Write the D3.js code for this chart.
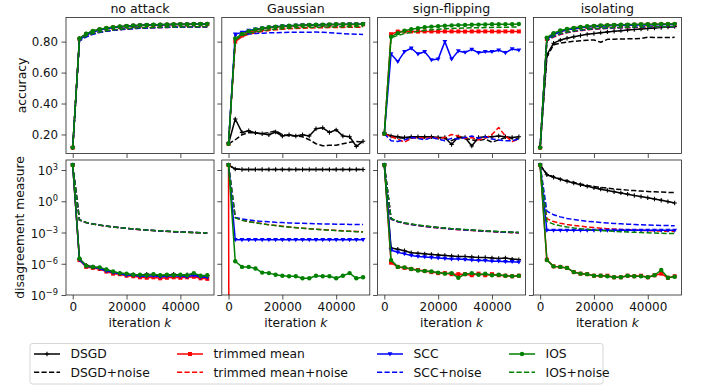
<!DOCTYPE html>
<html><head><meta charset="utf-8">
<script src="https://cdn.jsdelivr.net/npm/d3@7"></script>
<style>
body{margin:0;background:#fff}
svg{display:block}
text{font-family:"DejaVu Sans",sans-serif;fill:#111}
</style>
</head><body>
<svg id="chart" width="702" height="385"></svg>
<script>
// ---------------- data ----------------
const iterations = [0,2500,5000,7500,10000,12500,15000,17500,20000,22500,25000,27500,30000,32500,35000,37500,40000,42500,45000,47500,50000];
const attackTitles = ["no attack","Gaussian","sign-flipping","isolating"];
const methodNames = ["DSGD","DSGD+noise","trimmed mean","trimmed mean+noise","SCC","SCC+noise","IOS","IOS+noise"];
const xTickValues = [0,20000,40000];
const accTickValues = [0.2,0.4,0.6,0.8];
const disTickValues = [1e3,1e0,1e-3,1e-6,1e-9];
const disTickExponents = ["3","0","\u22123","\u22126","\u22129"];

// accuracy, order: DSGD, DSGD+noise, TM, TM+noise, SCC, SCC+noise, IOS, IOS+noise
const accNoAttack = [
 [0.115,0.82,0.85,0.868,0.879,0.887,0.893,0.897,0.9,0.903,0.905,0.907,0.908,0.909,0.91,0.911,0.912,0.912,0.913,0.913,0.914],
 [0.115,0.81,0.836,0.852,0.862,0.869,0.875,0.879,0.883,0.886,0.888,0.89,0.891,0.892,0.893,0.894,0.895,0.895,0.896,0.896,0.897],
 [0.115,0.818,0.848,0.866,0.877,0.885,0.891,0.895,0.899,0.902,0.904,0.906,0.907,0.908,0.909,0.91,0.911,0.911,0.912,0.912,0.913],
 [0.115,0.808,0.834,0.85,0.86,0.868,0.874,0.878,0.882,0.885,0.887,0.889,0.89,0.891,0.892,0.893,0.894,0.894,0.895,0.895,0.896],
 [0.115,0.812,0.842,0.862,0.875,0.884,0.89,0.895,0.898,0.901,0.904,0.906,0.907,0.908,0.909,0.91,0.911,0.911,0.912,0.912,0.913],
 [0.115,0.805,0.83,0.848,0.859,0.867,0.873,0.877,0.881,0.884,0.886,0.888,0.89,0.891,0.892,0.893,0.894,0.894,0.895,0.895,0.896],
 [0.115,0.821,0.851,0.869,0.88,0.888,0.894,0.898,0.901,0.904,0.906,0.908,0.909,0.91,0.911,0.912,0.913,0.913,0.914,0.914,0.915],
 [0.115,0.811,0.837,0.853,0.863,0.87,0.876,0.88,0.884,0.887,0.889,0.891,0.892,0.893,0.894,0.895,0.896,0.896,0.897,0.897,0.898]
];
const accGaussian = [
 [0.14,0.30,0.213,0.224,0.21,0.205,0.198,0.216,0.19,0.198,0.19,0.198,0.19,0.237,0.243,0.213,0.23,0.19,0.185,0.123,0.156],
 [0.14,0.166,0.198,0.213,0.21,0.205,0.213,0.224,0.198,0.192,0.19,0.185,0.166,0.14,0.127,0.13,0.13,0.14,0.149,0.155,0.15],
 [0.14,0.80,0.84,0.86,0.873,0.882,0.889,0.894,0.897,0.9,0.902,0.904,0.906,0.907,0.908,0.909,0.91,0.91,0.911,0.911,0.912],
 [0.14,0.80,0.832,0.848,0.858,0.866,0.872,0.876,0.88,0.883,0.885,0.887,0.888,0.889,0.89,0.891,0.892,0.892,0.893,0.893,0.894],
 [0.14,0.848,0.86,0.872,0.88,0.887,0.892,0.896,0.899,0.902,0.904,0.906,0.907,0.908,0.909,0.91,0.911,0.911,0.912,0.912,0.913],
 [0.14,0.84,0.845,0.85,0.853,0.855,0.857,0.858,0.859,0.86,0.86,0.861,0.861,0.862,0.86,0.858,0.855,0.852,0.85,0.848,0.846],
 [0.14,0.82,0.85,0.868,0.879,0.887,0.893,0.897,0.9,0.903,0.905,0.907,0.908,0.909,0.91,0.911,0.912,0.912,0.913,0.913,0.914],
 [0.14,0.812,0.838,0.853,0.863,0.87,0.876,0.88,0.884,0.887,0.889,0.891,0.892,0.893,0.894,0.895,0.896,0.896,0.897,0.897,0.898]
];
const accSignFlipping = [
 [0.205,0.19,0.185,0.18,0.185,0.185,0.185,0.185,0.18,0.18,0.135,0.185,0.18,0.125,0.18,0.185,0.185,0.19,0.185,0.18,0.185],
 [0.205,0.19,0.18,0.175,0.18,0.185,0.185,0.18,0.18,0.175,0.16,0.18,0.175,0.165,0.16,0.17,0.15,0.165,0.18,0.175,0.17],
 [0.205,0.848,0.865,0.866,0.866,0.865,0.866,0.866,0.865,0.866,0.866,0.866,0.865,0.866,0.866,0.866,0.866,0.865,0.866,0.866,0.866],
 [0.205,0.185,0.17,0.15,0.175,0.18,0.175,0.18,0.175,0.18,0.2,0.19,0.175,0.18,0.165,0.175,0.2,0.245,0.19,0.155,0.17],
 [0.205,0.72,0.671,0.735,0.757,0.72,0.735,0.682,0.687,0.80,0.687,0.74,0.73,0.75,0.728,0.735,0.735,0.745,0.728,0.753,0.745],
 [0.205,0.16,0.155,0.165,0.18,0.175,0.165,0.18,0.17,0.16,0.175,0.17,0.18,0.19,0.175,0.185,0.17,0.165,0.16,0.16,0.17],
 [0.205,0.832,0.855,0.87,0.88,0.887,0.893,0.897,0.9,0.903,0.905,0.907,0.908,0.909,0.91,0.911,0.912,0.912,0.913,0.913,0.914],
 [0.205,0.825,0.84,0.852,0.86,0.867,0.872,0.876,0.88,0.883,0.885,0.887,0.888,0.889,0.89,0.891,0.892,0.893,0.893,0.894,0.895]
];
const accIsolating = [
 [0.115,0.714,0.79,0.81,0.822,0.832,0.84,0.847,0.853,0.858,0.863,0.867,0.871,0.875,0.878,0.882,0.885,0.888,0.891,0.894,0.897],
 [0.115,0.70,0.78,0.79,0.797,0.802,0.806,0.809,0.811,0.796,0.815,0.816,0.817,0.818,0.819,0.82,0.828,0.827,0.826,0.826,0.828],
 [0.115,0.818,0.848,0.866,0.877,0.885,0.891,0.895,0.899,0.902,0.904,0.906,0.907,0.908,0.909,0.91,0.911,0.911,0.912,0.912,0.913],
 [0.115,0.805,0.83,0.846,0.857,0.865,0.871,0.876,0.88,0.883,0.886,0.888,0.889,0.89,0.891,0.892,0.893,0.894,0.895,0.896,0.897],
 [0.115,0.815,0.845,0.864,0.876,0.884,0.89,0.894,0.898,0.9,0.902,0.904,0.905,0.906,0.907,0.908,0.908,0.909,0.909,0.91,0.91],
 [0.115,0.808,0.833,0.849,0.86,0.868,0.874,0.878,0.882,0.885,0.887,0.889,0.89,0.891,0.892,0.893,0.894,0.895,0.896,0.896,0.897],
 [0.115,0.826,0.855,0.872,0.882,0.889,0.895,0.899,0.902,0.905,0.907,0.908,0.909,0.91,0.911,0.912,0.913,0.913,0.914,0.914,0.915],
 [0.115,0.81,0.838,0.853,0.863,0.87,0.876,0.88,0.884,0.887,0.889,0.891,0.892,0.893,0.894,0.895,0.896,0.896,0.897,0.897,0.898]
];

// disagreement measure (log axis), same series order
const disNoAttack = [
 [3000,2.8e-6,7.1e-7,5e-7,4e-7,2.5e-7,1.58e-7,1.26e-7,1e-7,8.9e-8,7.9e-8,1e-7,8.9e-8,7.1e-8,7.9e-8,1e-7,7.9e-8,8.9e-8,1e-7,6.3e-8,7.1e-8],
 [3000,1.6e-2,9e-3,6.5e-3,5.1e-3,4.1e-3,3.4e-3,2.9e-3,2.5e-3,2.2e-3,1.9e-3,1.7e-3,1.55e-3,1.42e-3,1.3e-3,1.2e-3,1.12e-3,1.05e-3,1e-3,9.5e-4,9e-4],
 [3000,2.24e-6,5e-7,4e-7,3.16e-7,1.78e-7,1.12e-7,1e-7,7.1e-8,6.3e-8,5e-8,4.5e-8,5e-8,4e-8,4.5e-8,5e-8,4.5e-8,5e-8,5.6e-8,4e-8,3.55e-8],
 [3000,1.55e-2,8.8e-3,6.4e-3,5e-3,4e-3,3.35e-3,2.85e-3,2.45e-3,2.15e-3,1.88e-3,1.68e-3,1.52e-3,1.4e-3,1.28e-3,1.18e-3,1.1e-3,1.03e-3,9.8e-4,9.3e-4,8.8e-4],
 [3000,2.5e-6,5.6e-7,4.5e-7,3.55e-7,2e-7,1.41e-7,1.12e-7,7.9e-8,7.9e-8,6.3e-8,6.3e-8,7.1e-8,5.6e-8,6.3e-8,7.1e-8,6.3e-8,5.6e-8,7.9e-8,5e-8,5e-8],
 [3000,1.62e-2,9.1e-3,6.5e-3,5.1e-3,4.1e-3,3.4e-3,2.9e-3,2.5e-3,2.2e-3,1.9e-3,1.7e-3,1.55e-3,1.42e-3,1.3e-3,1.2e-3,1.12e-3,1.05e-3,1e-3,9.5e-4,9e-4],
 [3000,3.16e-6,6.3e-7,5e-7,4.5e-7,2.8e-7,1.78e-7,1.26e-7,1.12e-7,8.9e-8,8.9e-8,7.9e-8,1e-7,7.9e-8,8.9e-8,7.9e-8,8.9e-8,7.9e-8,1.26e-7,7.1e-8,7.9e-8],
 [3000,1.65e-2,9.2e-3,6.6e-3,5.2e-3,4.2e-3,3.45e-3,2.95e-3,2.55e-3,2.22e-3,1.95e-3,1.72e-3,1.57e-3,1.44e-3,1.32e-3,1.22e-3,1.14e-3,1.07e-3,1.01e-3,9.6e-4,9.1e-4]
];
const disGaussian = [
 [3000,1250,1130,1120,1125,1120,1118,1122,1120,1120,1121,1119,1120,1122,1120,1118,1120,1121,1120,1119,1120],
 [3000,1230,1120,1115,1120,1118,1116,1120,1118,1117,1119,1118,1117,1120,1118,1116,1118,1119,1118,1117,1118],
 [3000,0,0,0,0,0,0,0,0,0,0,0,0,0,0,0,0,0,0,0,0],
 [3000,2.8e-2,1.58e-2,1.12e-2,8.9e-3,7.1e-3,5.6e-3,4.8e-3,4e-3,3.4e-3,2.95e-3,2.6e-3,2.35e-3,2.1e-3,1.9e-3,1.74e-3,1.58e-3,1.45e-3,1.35e-3,1.26e-3,1.17e-3],
 [3000,2e-4,2e-4,2e-4,2e-4,2e-4,2e-4,2e-4,2e-4,2e-4,2e-4,2e-4,2e-4,2e-4,2e-4,2e-4,2e-4,2e-4,2e-4,2e-4,2e-4],
 [3000,2.8e-2,2e-2,1.58e-2,1.35e-2,1.17e-2,1.05e-2,9.5e-3,8.9e-3,8.3e-3,7.9e-3,7.6e-3,7.2e-3,6.9e-3,6.6e-3,6.45e-3,6.3e-3,6.2e-3,6e-3,5.9e-3,5.75e-3],
 [3000,1.74e-6,5e-7,5e-7,3.55e-7,1.41e-7,1.26e-7,8.9e-8,7.1e-8,6.3e-8,6.3e-8,4e-8,4e-8,7.1e-8,6.3e-8,6.3e-8,4e-8,7.1e-8,1.26e-7,4e-8,5e-8],
 [3000,2.6e-2,1.5e-2,1.08e-2,8.5e-3,6.8e-3,5.4e-3,4.6e-3,3.85e-3,3.3e-3,2.85e-3,2.5e-3,2.25e-3,2e-3,1.82e-3,1.66e-3,1.52e-3,1.4e-3,1.3e-3,1.2e-3,1.12e-3]
];
const disSignFlipping = [
 [3000,3.3e-5,2.5e-5,1.78e-5,1.12e-5,1e-5,8.9e-6,7.9e-6,7.1e-6,6.3e-6,5.6e-6,5e-6,5e-6,4.5e-6,4e-6,4e-6,3.55e-6,3.16e-6,3.55e-6,2.8e-6,2.5e-6],
 [3000,2.1e-2,1.15e-2,8e-3,6.3e-3,5e-3,4.1e-3,3.5e-3,3e-3,2.6e-3,2.3e-3,2.05e-3,1.85e-3,1.68e-3,1.53e-3,1.4e-3,1.3e-3,1.2e-3,1.12e-3,1.05e-3,1e-3],
 [3000,1.26e-6,5e-7,4e-7,3.16e-7,2.5e-7,2e-7,1.58e-7,1.26e-7,1.26e-7,1e-7,1e-7,1e-7,7.9e-8,1.12e-7,7.9e-8,1e-7,7.9e-8,7.1e-8,6.3e-8,7.1e-8],
 [3000,1.9e-2,1.05e-2,7.4e-3,5.8e-3,4.6e-3,3.8e-3,3.2e-3,2.75e-3,2.4e-3,2.1e-3,1.88e-3,1.7e-3,1.55e-3,1.42e-3,1.3e-3,1.2e-3,1.1e-3,1.03e-3,9.6e-4,9e-4],
 [3000,2e-5,1.26e-5,8.9e-6,6.3e-6,5e-6,4.5e-6,4e-6,3.55e-6,3.16e-6,2.8e-6,2.8e-6,2.5e-6,2.24e-6,2e-6,2e-6,1.78e-6,1.78e-6,1.58e-6,1.58e-6,1.41e-6],
 [3000,2e-2,1.1e-2,7.7e-3,6e-3,4.8e-3,3.95e-3,3.35e-3,2.9e-3,2.5e-3,2.2e-3,1.98e-3,1.78e-3,1.62e-3,1.48e-3,1.36e-3,1.26e-3,1.16e-3,1.08e-3,1.01e-3,9.5e-4],
 [3000,2.24e-6,5e-7,4.5e-7,3.16e-7,2.24e-7,2e-7,1.78e-7,1.41e-7,1.12e-7,1.26e-7,4.5e-8,1e-7,1.26e-7,8.9e-8,1.12e-7,7.9e-8,8.9e-8,7.1e-8,6.3e-8,7.1e-8],
 [3000,2.2e-2,1.2e-2,8.3e-3,6.5e-3,5.2e-3,4.25e-3,3.6e-3,3.1e-3,2.7e-3,2.35e-3,2.1e-3,1.9e-3,1.72e-3,1.57e-3,1.44e-3,1.33e-3,1.23e-3,1.15e-3,1.08e-3,1.02e-3]
];
const disIsolating = [
 [3000,355,200,126,83,56,38,27,19.5,14.5,11,8.3,6.3,4.8,3.6,2.8,2.14,1.66,1.26,0.93,0.69],
 [3000,400,224,141,91,63,45,33,26,21.4,17.8,15.1,13.2,11.7,10.5,9.5,8.7,8.1,7.6,7.1,6.8],
 [3000,2.5e-6,5.6e-7,5e-7,4e-7,1.58e-7,1.12e-7,1e-7,7.1e-8,7.1e-8,7.1e-8,5e-8,5e-8,7.1e-8,6.3e-8,7.1e-8,5e-8,7.9e-8,1.12e-7,4.5e-8,6.3e-8],
 [3000,2.1e-2,1.12e-2,7.9e-3,6e-3,4.8e-3,4e-3,3.4e-3,2.95e-3,2.6e-3,2.35e-3,2.15e-3,1.95e-3,1.82e-3,1.7e-3,1.58e-3,1.51e-3,1.45e-3,1.38e-3,1.32e-3,1.26e-3],
 [3000,1.6e-3,1.6e-3,1.6e-3,1.6e-3,1.6e-3,1.6e-3,1.6e-3,1.6e-3,1.6e-3,1.6e-3,1.6e-3,1.6e-3,1.6e-3,1.6e-3,1.6e-3,1.6e-3,1.6e-3,1.6e-3,1.6e-3,1.6e-3],
 [3000,0.112,0.05,0.0316,0.0224,0.0178,0.0141,0.012,0.0105,9.1e-3,8.1e-3,7.4e-3,6.8e-3,6.3e-3,5.9e-3,5.5e-3,5.25e-3,5e-3,4.8e-3,4.6e-3,4.45e-3],
 [3000,2.24e-6,5.6e-7,5e-7,4e-7,1.58e-7,1.12e-7,1e-7,7.1e-8,7.1e-8,6.3e-8,5e-8,5e-8,7.1e-8,6.3e-8,6.3e-8,5e-8,7.9e-8,2.5e-7,4.5e-8,5.6e-8],
 [3000,1.15e-2,6.3e-3,4.5e-3,3.4e-3,2.75e-3,2.3e-3,2e-3,1.74e-3,1.55e-3,1.41e-3,1.29e-3,1.2e-3,1.12e-3,1.05e-3,1e-3,9.3e-4,8.9e-4,8.5e-4,8.1e-4,7.9e-4]
];

const accPanels = [accNoAttack, accGaussian, accSignFlipping, accIsolating];
const disPanels = [disNoAttack, disGaussian, disSignFlipping, disIsolating];

// ---------------- styles ----------------
const methodColors = ["#000000","#000000","#ff0000","#ff0000","#0000ff","#0000ff","#008000","#008000"];
const methodDashed = [false,true,false,true,false,true,false,true];
const methodMarkers = ["plus",null,"square",null,"triangle",null,"circle",null];

const svg = d3.select("#chart");
const panelLeft0 = 66, panelStep = 155.8, panelW = 148;
const rows = [{top:17.5,h:136},{top:160,h:135}];

const x = d3.scaleLinear().domain([-2500,52500]).range([0,panelW]);
const yAcc = d3.scaleLinear().domain([0.077,0.956]).range([rows[0].h,0]);
const yDis = d3.scaleLog().domain([1e-9, Math.pow(10,3.96)]).range([rows[1].h,0]);

function drawMarker(g, type, cx, cy, color){
  if(type==="square"){
    g.append("rect").attr("x",cx-2).attr("y",cy-2).attr("width",4).attr("height",4).attr("fill",color);
  } else if(type==="circle"){
    g.append("circle").attr("cx",cx).attr("cy",cy).attr("r",2.2).attr("fill",color);
  } else if(type==="triangle"){
    g.append("path").attr("d",`M${cx-2.4},${cy-1.7}L${cx+2.4},${cy-1.7}L${cx},${cy+2.4}Z`).attr("fill",color);
  } else if(type==="plus"){
    g.append("path").attr("d",`M${cx-2.2},${cy}H${cx+2.2}M${cx},${cy-2.2}V${cy+2.2}`).attr("stroke",color).attr("stroke-width",1.1);
  }
}

const defs = svg.append("defs");

function drawPanel(col,rowIdx,series,yScale,isLog){
  const r = rows[rowIdx];
  const left = panelLeft0 + col*panelStep;
  const g = svg.append("g").attr("transform",`translate(${left},${r.top})`);
  const cid = `clip-${rowIdx}-${col}`;
  defs.append("clipPath").attr("id",cid).append("rect").attr("width",panelW).attr("height",r.h);
  const plot = g.append("g").attr("clip-path",`url(#${cid})`);
  const yv = v => isLog ? yScale(Math.max(v,1e-300)) : yScale(v);
  const line = d3.line().x((d,i)=>x(iterations[i])).y(d=>yv(d));
  series.forEach((vals,k)=>{
    plot.append("path").attr("d",line(vals)).attr("fill","none")
      .attr("stroke",methodColors[k]).attr("stroke-width",1.5)
      .attr("stroke-dasharray",methodDashed[k]?"5.2,2.3":null)
      .attr("stroke-linejoin","round");
    if(methodMarkers[k]){
      vals.forEach((v,i)=>drawMarker(plot,methodMarkers[k],x(iterations[i]),yv(v),methodColors[k]));
    }
  });
  // axes
  const ax = d3.axisBottom(x).tickValues(xTickValues).tickSize(4.5).tickPadding(2.5)
    .tickFormat(rowIdx===1 ? d3.format("d") : "");
  const gx = g.append("g").attr("transform",`translate(0,${r.h})`).call(ax);
  gx.select(".domain").remove();
  gx.selectAll("text").style("font-size","12px").style("font-family","DejaVu Sans").attr("fill","#111");
  gx.selectAll("line").attr("stroke","#222").attr("stroke-width",0.8);
  let ay;
  if(!isLog){
    ay = d3.axisLeft(yScale).tickValues(accTickValues).tickSize(4.5).tickPadding(3.5)
      .tickFormat(col===0 ? d3.format(".2f") : "");
  } else {
    ay = d3.axisLeft(yScale).tickValues(disTickValues).tickSize(4.5).tickPadding(3.5).tickFormat("");
  }
  const gy = g.append("g").call(ay);
  gy.select(".domain").remove();
  gy.selectAll("line").attr("stroke","#222").attr("stroke-width",0.8);
  gy.selectAll("text").style("font-size","11.8px").style("font-family","DejaVu Sans").attr("fill","#111");
  if(isLog && col===0){
    gy.selectAll(".tick").each(function(d,i){
      const t = d3.select(this).append("text").attr("x",-8).attr("y",4.5)
        .attr("text-anchor","end").attr("fill","#111").style("font-size","11.8px");
      t.append("tspan").text("10");
      t.append("tspan").attr("dy",-5).style("font-size","8.3px").text(disTickExponents[i]);
    });
  }
  // spines
  g.append("rect").attr("x",0).attr("y",0).attr("width",panelW).attr("height",r.h)
    .attr("fill","none").attr("stroke","#222").attr("stroke-width",0.8);
  if(rowIdx===0){
    g.append("text").attr("x",panelW/2).attr("y",-4.5).attr("text-anchor","middle")
      .style("font-size","12.6px").text(attackTitles[col]);
  } else {
    const xl = g.append("text").attr("x",panelW/2).attr("y",r.h+31.5).attr("text-anchor","middle")
      .style("font-size","12.3px");
    xl.append("tspan").text("iteration ");
    xl.append("tspan").style("font-style","italic").text("k");
  }
}

for(let c=0;c<4;c++){
  drawPanel(c,0,accPanels[c],yAcc,false);
  drawPanel(c,1,disPanels[c],yDis,true);
}

// y labels
svg.append("text").attr("transform",`translate(26,${rows[0].top+rows[0].h/2}) rotate(-90)`)
  .attr("text-anchor","middle").style("font-size","12.3px").text("accuracy");
svg.append("text").attr("transform",`translate(23.8,${rows[1].top+rows[1].h/2}) rotate(-90)`)
  .attr("text-anchor","middle").style("font-size","12.3px").text("disagreement measure");

// legend
const lg = svg.append("g");
lg.append("rect").attr("x",30).attr("y",343.5).attr("width",573).attr("height",40.5).attr("rx",2.5)
  .attr("fill","#fff").attr("fill-opacity",0.8).attr("stroke","#cccccc").attr("stroke-width",0.8);
const legHandleX = [34,177,377,509];
const legRowY = [354,372.3];
methodNames.forEach((name,k)=>{
  const col = Math.floor(k/2), row = k%2;
  const hx = legHandleX[col], hy = legRowY[row];
  lg.append("line").attr("x1",hx).attr("x2",hx+26).attr("y1",hy).attr("y2",hy)
    .attr("stroke",methodColors[k]).attr("stroke-width",1.5)
    .attr("stroke-dasharray",methodDashed[k]?"5.2,2.3":null);
  if(methodMarkers[k]) drawMarker(lg,methodMarkers[k],hx+13,hy,methodColors[k]);
  lg.append("text").attr("x",hx+36.5).attr("y",hy+4.3).style("font-size","12.3px").text(name);
});
</script>
</body></html>
